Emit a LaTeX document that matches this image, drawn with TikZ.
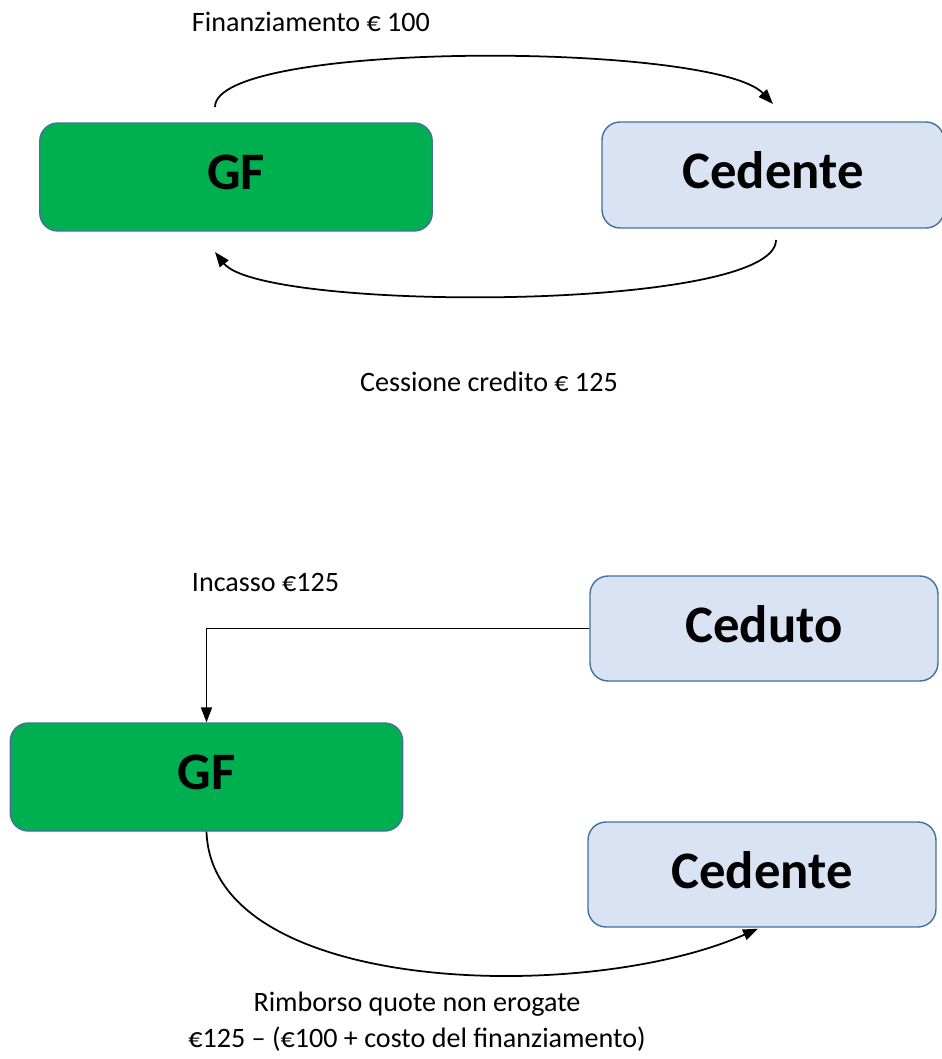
\documentclass[tikz,border=0pt]{standalone}
\usepackage{fontspec}
\setmainfont{Carlito}
\usepackage{tikz}
\usetikzlibrary{arrows.meta, positioning, calc}
\definecolor{gfgreen}{RGB}{0, 176, 80}
\definecolor{partyblue}{RGB}{218, 227, 243}
\definecolor{boxedge}{RGB}{65, 113, 156}

\tikzset{
    party/.style={draw=boxedge, line width=0.8pt, rounded corners=0.36cm,
        text depth=0.2cm, font=\fontsize{30}{36}\selectfont\bfseries},
    gfbox/.style={party, fill=gfgreen, minimum width=7.85cm, minimum height=2.16cm},
    cedbox/.style={party, fill=partyblue, minimum width=6.96cm, minimum height=2.1cm},
    flow/.style={line width=1pt, -{Triangle[length=0.3cm, width=0.22cm]}},
    note/.style={font=\fontsize{16}{20.5}\selectfont, align=center}
}

\begin{document}
\begin{tikzpicture}[x=0.02cm, y=-0.02cm]
        \useasboundingbox (0,0) rectangle (941,1059);

        % financing and assignment of the credit
        \begin{scope}
            \node[gfbox] (gfA) at (236,177) {GF};
            \node[cedbox, minimum width=6.84cm, minimum height=2.12cm] (cedA) at (773,175) {Cedente};
            \coordinate (finFrom) at (215,107);
            \coordinate (finTo) at (773,104);
            \coordinate (cesFrom) at (776,240);
            \coordinate (cesTo) at (215,252);
            \draw[flow] (finFrom) .. controls (215,40) and (715,42) .. (finTo);
            \draw[flow] (cesFrom) .. controls (776,312) and (262,312) .. (cesTo);
            \node[note] (finLab) at (311,22) {Finanziamento € 100};
            \node[note] (cesLab) at (489,382) {Cessione credito € 125};
        \end{scope}

        % collection and refund
        \begin{scope}
            \node[cedbox] (ceduto) at (764,628.5) {Ceduto};
            \node[gfbox] (gfB) at (206.5,777) {GF};
            \node[cedbox] (cedB) at (762,874.5) {Cedente};
            \draw[flow] (ceduto.west) -| (gfB.north);
            \draw[flow] (gfB.south) .. controls (212,995) and (585,1005) .. ($(cedB.south)+(-4,1)$);
            \node[note] (incLab) at (265.5,582) {Incasso €125};
            \node[note] (rimLab) at (417,1022) {Rimborso quote non erogate\\€125 – (€100 + costo del finanziamento)};
        \end{scope}
    \end{tikzpicture}
\end{document}
